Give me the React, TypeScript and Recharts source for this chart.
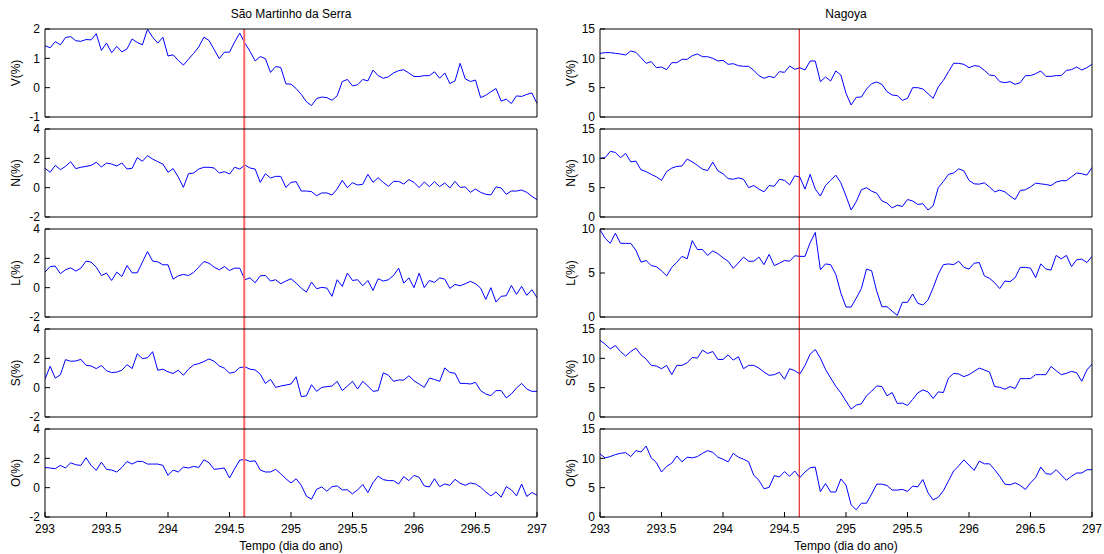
import React from "react";
import { LineChart, Line, XAxis, YAxis, ReferenceLine } from "recharts";

// hourly samples, day 293.0 .. 297.0
const startDay = 293;
const samplesPerDay = 24;
const xTicks = [293, 293.5, 294, 294.5, 295, 295.5, 296, 296.5, 297];
const eventDay = 294.62;

const stations = ["São Martinho da Serra", "Nagoya"];
const channelLabels = ["V(%)", "N(%)", "L(%)", "S(%)", "O(%)"];
const xLabel = "Tempo (dia do ano)";

const smsTicksV = [-1, 0, 1, 2];
const smsTicks = [-2, 0, 2, 4];
const nagTicks = [0, 5, 10, 15];
const nagTicksL = [0, 5, 10];

// São Martinho da Serra
const vSms = [
  1.43, 1.36, 1.57, 1.46, 1.71, 1.74, 1.6, 1.58, 1.64, 1.63,
  1.84, 1.27, 1.52, 1.19, 1.41, 1.22, 1.32, 1.66, 1.54, 1.46,
  1.99, 1.72, 1.52, 1.72, 1.08, 1.12, 0.93, 0.77, 0.97, 1.17,
  1.39, 1.72, 1.61, 1.3, 0.99, 1.21, 1.21, 1.56, 1.86, 1.52,
  1.24, 0.91, 1.06, 0.99, 0.52, 0.72, 0.69, 0.13, 0.12, -0.03,
  -0.23, -0.48, -0.61, -0.37, -0.32, -0.34, -0.43, -0.28, 0.21, 0.28,
  0.06, 0.1, 0.28, 0.23, 0.6, 0.41, 0.32, 0.37, 0.5, 0.58,
  0.61, 0.5, 0.38, 0.38, 0.41, 0.41, 0.54, 0.32, 0.5, 0.14,
  0.23, 0.83, 0.3, 0.21, 0.26, -0.34, -0.26, -0.14, -0.03, -0.46,
  -0.39, -0.54, -0.28, -0.3, -0.23, -0.18, -0.54,
];
const nSms = [
  1.32, 1.05, 1.52, 1.23, 1.45, 1.77, 1.3, 1.39, 1.45, 1.52,
  1.73, 1.41, 1.68, 1.61, 1.48, 1.68, 1.27, 1.32, 2.05, 1.8,
  2.18, 1.95, 1.77, 1.61, 1.05, 1.3, 0.73, 0.02, 0.95, 1.0,
  1.27, 1.39, 1.39, 1.34, 1.0, 1.09, 0.93, 1.39, 1.27, 1.55,
  1.34, 1.27, 0.36, 0.95, 0.66, 0.77, 0.77, 0.02, 0.36, 0.41,
  -0.23, -0.23, -0.27, -0.55, -0.36, -0.36, -0.5, -0.09, 0.5, 0.0,
  0.34, 0.18, 0.23, 0.91, 0.36, 0.68, 0.36, 0.09, 0.43, 0.43,
  0.25, 0.55, 0.36, 0.0, 0.39, 0.07, 0.41, 0.07, 0.32, -0.02,
  0.43, 0.02, 0.05, -0.32, -0.09, -0.32, -0.45, -0.5, 0.05, -0.02,
  -0.45, -0.23, -0.23, -0.16, -0.32, -0.59, -0.82,
];
const lSms = [
  1.06, 1.44, 1.47, 0.95, 1.22, 1.35, 1.13, 1.33, 1.81, 1.74,
  1.4, 0.83, 0.99, 0.49, 1.06, 0.76, 1.51, 1.01, 1.01, 1.74,
  2.46, 1.81, 1.76, 1.56, 1.56, 0.58, 0.81, 0.9, 0.83, 1.04,
  1.4, 1.78, 1.67, 1.4, 1.22, 1.44, 1.17, 1.33, 1.33, 0.54,
  0.67, 0.33, 0.81, 0.83, 0.45, 0.54, 0.27, 0.45, 0.61, 0.31,
  -0.03, -0.3, 0.38, -0.07, 0.02, -0.03, -0.59, 0.54, 0.09, 0.99,
  0.49, 0.54, 0.13, 0.49, -0.19, 0.61, 0.45, 0.54, 0.83, 1.33,
  0.31, 0.67, 0.0, 0.99, 0.0, 0.49, 0.36, 0.67, 0.58, -0.05,
  0.22, 0.13, 0.27, 0.43, 0.27, -0.03, -0.8, 0.0, -0.98, -0.59,
  -0.55, 0.15, -0.46, 0.09, -0.52, -0.14, -0.68,
];
const sSms = [
  0.58, 1.46, 0.65, 0.88, 1.91, 1.8, 1.82, 1.93, 1.53, 1.48,
  1.3, 1.51, 1.15, 1.03, 1.06, 1.19, 1.57, 1.3, 2.31, 1.98,
  2.04, 2.45, 1.19, 1.26, 1.08, 0.97, 1.19, 0.85, 1.26, 1.55,
  1.64, 1.78, 1.96, 1.8, 1.48, 1.33, 0.99, 1.06, 1.37, 1.42,
  1.26, 1.21, 0.92, 0.29, 0.56, 0.02, 0.11, 0.18, 0.25, 0.74,
  -0.61, -0.56, 0.2, -0.25, 0.02, 0.07, 0.11, 0.43, -0.2, 0.11,
  0.43, -0.09, 0.43, 0.11, -0.25, -0.2, 1.01, 0.85, 0.43, 0.52,
  0.52, 0.81, 0.47, 0.25, 0.02, 0.65, 0.56, 0.43, 1.35, 1.03,
  0.99, 0.29, 0.29, 0.25, 0.36, -0.2, -0.43, -0.54, -0.2, -0.2,
  -0.7, -0.43, -0.02, 0.29, -0.09, -0.25, -0.25,
];
const oSms = [
  1.38, 1.34, 1.29, 1.52, 1.34, 1.7, 1.56, 1.52, 2.04, 1.52,
  1.18, 1.74, 1.25, 1.2, 1.07, 1.38, 1.79, 1.61, 1.79, 1.79,
  1.61, 1.61, 1.61, 1.52, 0.84, 1.2, 1.07, 1.4, 1.34, 1.45,
  1.38, 1.9, 1.7, 1.25, 1.29, 1.34, 0.66, 1.29, 1.88, 1.92,
  1.79, 1.83, 1.2, 1.07, 1.07, 1.25, 0.95, 0.61, 0.32, 0.61,
  0.16, -0.58, -0.79, -0.11, 0.05, -0.24, 0.07, 0.12, -0.15, -0.15,
  -0.42, -0.15, 0.21, -0.33, 0.34, 0.79, 0.55, 0.48, 0.48, 0.25,
  0.75, 0.48, 0.84, 0.7, 0.12, 0.05, 0.61, 0.07, 0.25, 0.16,
  0.57, 0.3, 0.16, 0.32, 0.25, 0.03, -0.29, -0.56, -0.29, -0.65,
  0.07, -0.15, -0.56, 0.25, -0.6, -0.33, -0.51,
];

// Nagoya
const vNag = [
  10.85, 10.97, 10.97, 10.85, 10.74, 10.57, 11.25, 11.02, 10.11, 9.15,
  9.43, 8.41, 8.52, 8.07, 9.26, 9.26, 9.83, 9.83, 10.45, 10.74,
  10.28, 10.28, 10.0, 9.55, 9.66, 8.98, 9.09, 8.75, 8.64, 8.64,
  7.95, 7.05, 6.59, 6.93, 6.7, 7.73, 7.61, 8.69, 8.13, 8.41,
  8.01, 9.55, 9.55, 6.02, 6.82, 6.14, 7.84, 7.16, 4.03, 2.05,
  3.35, 3.41, 4.77, 5.68, 5.97, 5.57, 4.32, 3.75, 3.64, 2.84,
  3.18, 5.0, 5.0, 4.77, 3.98, 3.18, 5.11, 6.25, 7.73, 9.15,
  9.15, 8.98, 8.41, 8.75, 8.64, 7.95, 7.16, 7.05, 6.02, 5.85,
  6.02, 5.57, 5.85, 7.05, 7.05, 7.39, 7.84, 6.93, 6.93, 7.05,
  7.05, 7.95, 8.07, 8.52, 8.01, 8.41, 8.98,
];
const nNag = [
  10.0, 10.12, 11.19, 11.01, 10.12, 10.83, 9.4, 9.52, 8.04, 7.74,
  7.26, 6.85, 6.25, 7.74, 8.33, 8.63, 8.69, 9.88, 9.4, 8.81,
  8.15, 7.92, 9.35, 7.86, 7.38, 6.55, 6.43, 6.67, 6.43, 5.0,
  5.36, 4.76, 4.29, 5.36, 5.24, 6.43, 6.25, 5.48, 7.02, 6.79,
  4.76, 7.26, 4.76, 3.57, 5.36, 6.25, 7.14, 5.83, 3.57, 1.19,
  2.62, 4.64, 5.0, 4.4, 4.05, 2.74, 2.38, 1.55, 2.02, 1.79,
  2.98, 2.74, 2.14, 2.26, 1.19, 1.9, 5.0, 6.07, 7.26, 7.5,
  8.21, 7.86, 6.25, 5.65, 5.6, 5.83, 5.12, 4.29, 4.58, 4.29,
  3.57, 2.98, 4.52, 4.64, 5.12, 5.77, 5.65, 5.54, 5.36, 5.95,
  6.19, 6.19, 6.85, 7.5, 7.38, 7.14, 8.45,
];
const lNag = [
  9.92, 8.95, 8.37, 9.53, 8.37, 8.37, 8.37, 7.59, 6.23, 6.42,
  5.84, 5.72, 5.25, 4.67, 5.64, 6.23, 6.89, 6.61, 8.68, 7.67,
  7.67, 7.0, 7.51, 7.2, 6.73, 6.34, 5.53, 6.15, 6.81, 6.34,
  6.34, 6.81, 5.95, 7.12, 5.84, 6.11, 6.42, 6.34, 6.96, 6.89,
  6.89, 8.44, 9.61, 5.37, 6.03, 5.95, 4.86, 2.72, 1.13, 1.13,
  2.14, 3.23, 5.45, 5.25, 2.92, 1.17, 1.17, 0.66, 0.19, 1.67,
  1.67, 2.61, 1.56, 1.36, 1.95, 3.31, 4.86, 5.95, 6.03, 5.95,
  6.34, 5.64, 5.45, 6.11, 6.19, 4.67, 4.4, 3.89, 3.23, 4.09,
  4.01, 4.47, 5.64, 5.64, 5.56, 4.47, 6.03, 5.45, 5.33, 7.0,
  6.61, 7.0, 5.72, 6.5, 6.58, 6.19, 6.89,
];
const sNag = [
  13.08, 12.41, 11.62, 12.18, 11.16, 10.38, 11.16, 11.73, 10.6, 9.87,
  8.8, 8.68, 8.23, 8.8, 7.22, 8.8, 8.8, 9.25, 10.15, 10.04,
  11.39, 10.83, 11.16, 9.81, 9.81, 10.6, 9.7, 10.26, 8.23, 8.8,
  8.8, 8.34, 7.67, 7.1, 7.22, 7.61, 6.43, 8.23, 7.89, 7.33,
  8.8, 10.71, 11.5, 10.04, 8.12, 6.65, 5.24, 4.11, 2.7, 1.35,
  2.03, 2.25, 3.61, 4.4, 5.3, 5.19, 3.61, 4.17, 2.31, 2.37,
  1.97, 2.99, 4.11, 4.62, 4.28, 3.16, 4.28, 4.17, 6.65, 7.44,
  7.33, 6.88, 7.22, 7.78, 8.34, 8.01, 7.67, 5.19, 5.07, 4.73,
  5.19, 4.85, 6.54, 6.54, 6.54, 7.22, 7.22, 7.22, 8.63, 7.89,
  7.22, 7.44, 7.78, 7.55, 6.09, 8.01, 9.02,
];
const oNag = [
  10.75, 10.08, 10.3, 10.64, 10.86, 10.97, 10.3, 11.31, 11.08, 12.09,
  10.08, 9.29, 7.67, 8.62, 9.18, 10.41, 9.4, 10.19, 10.08, 10.3,
  10.86, 11.31, 11.03, 10.19, 9.85, 9.4, 10.86, 10.19, 9.85, 9.4,
  7.11, 6.27, 4.82, 5.04, 7.05, 6.83, 7.73, 6.94, 7.84, 6.72,
  7.67, 8.4, 8.51, 4.31, 5.71, 4.26, 4.26, 6.49, 5.43, 2.07,
  1.23, 2.35, 2.35, 3.92, 5.6, 5.6, 5.37, 4.59, 4.59, 4.7,
  4.37, 5.26, 5.15, 6.38, 4.14, 2.91, 3.36, 4.48, 6.16, 7.84,
  8.73, 9.74, 8.84, 7.95, 9.52, 9.07, 9.07, 8.06, 6.94, 5.6,
  5.49, 5.82, 5.37, 4.7, 5.82, 6.72, 8.51, 7.39, 7.28, 8.06,
  7.17, 6.27, 6.94, 7.5, 7.5, 8.06, 8.06,
];

const columns = [
  {
    series: [vSms, nSms, lSms, sSms, oSms],
    ticks: [smsTicksV, smsTicks, smsTicks, smsTicks, smsTicks],
    eventColor: "#ff6464",
    eventWidth: 2,
  },
  {
    series: [vNag, nNag, lNag, sNag, oNag],
    ticks: [nagTicks, nagTicks, nagTicksL, nagTicks, nagTicks],
    eventColor: "#e00000",
    eventWidth: 1,
  },
];

// layout (px)
const FIG_W = 1104;
const FIG_H = 554;
const PLOT_W = 492;
const PLOT_H = 88;
const ROW_STEP = 100;
const FIRST_TOP = 29;
const COL_LEFT = [45, 600];
const YAXIS_W = 45;
const PAD_TOP = 8; // room for the top tick label
const PAD_RIGHT = 14; // room for the last x tick label
const FONT = "'Liberation Sans', Arial, Helvetica, sans-serif";

const Panel = ({ col, row }: { col: number; row: number }) => {
  const cfg = columns[col];
  const values = cfg.series[row];
  const ticks = cfg.ticks[row];
  const domain: [number, number] = [ticks[0], ticks[ticks.length - 1]];
  const last = row === channelLabels.length - 1;
  const plotTop = FIRST_TOP + row * ROW_STEP;
  const bottomH = last ? FIG_H - (plotTop + PLOT_H) : ROW_STEP - PLOT_H;
  const data = values.map((v, i) => ({ day: startDay + i / samplesPerDay, v }));

  // carry the event marker down through the gap to the next panel
  const span = domain[1] - domain[0];
  const markerLow = last ? domain[0] : domain[0] - (span * bottomH) / PLOT_H;
  const label = channelLabels[row];
  const midY = PAD_TOP + 1 + PLOT_H / 2;

  return (
    <div
      style={{
        position: "absolute",
        left: COL_LEFT[col] - YAXIS_W,
        top: plotTop - 1 - PAD_TOP,
      }}
    >
      <LineChart
        width={YAXIS_W + PLOT_W + 1 + PAD_RIGHT}
        height={PAD_TOP + 1 + PLOT_H + bottomH}
        data={data}
        margin={{ top: PAD_TOP, right: PAD_RIGHT, bottom: 0, left: 0 }}
      >
        <XAxis
          xAxisId="b"
          dataKey="day"
          type="number"
          domain={[startDay, 297]}
          ticks={xTicks}
          interval={0}
          allowDataOverflow
          height={bottomH}
          tickSize={-5}
          tickMargin={12}
          axisLine={{ stroke: "#000" }}
          tickLine={{ stroke: "#000" }}
          tick={last ? { fill: "#000", fontSize: 12, fontFamily: FONT } : false}
          label={
            last
              ? {
                  value: xLabel,
                  position: "insideBottom",
                  offset: 4,
                  fill: "#000",
                  fontSize: 12,
                  fontFamily: FONT,
                }
              : undefined
          }
        />
        <XAxis
          xAxisId="t"
          orientation="top"
          dataKey="day"
          type="number"
          domain={[startDay, 297]}
          ticks={xTicks}
          interval={0}
          allowDataOverflow
          height={1}
          tickSize={-5}
          axisLine={{ stroke: "#000" }}
          tickLine={{ stroke: "#000" }}
          tick={false}
        />
        <YAxis
          yAxisId="l"
          type="number"
          domain={domain}
          ticks={ticks}
          interval={0}
          allowDataOverflow
          width={YAXIS_W}
          tickSize={-5}
          tickMargin={10}
          axisLine={{ stroke: "#000" }}
          tickLine={{ stroke: "#000" }}
          tick={{ fill: "#000", fontSize: 12, fontFamily: FONT }}
          label={{
            value: label,
            content: () => (
              <text
                x={20}
                y={midY}
                transform={`rotate(-90 20 ${midY})`}
                textAnchor="middle"
                fontSize={12}
                fontFamily={FONT}
                fill="#000"
              >
                {label}
              </text>
            ),
          }}
        />
        <YAxis
          yAxisId="r"
          orientation="right"
          type="number"
          domain={domain}
          ticks={ticks}
          interval={0}
          allowDataOverflow
          width={1}
          tickSize={-5}
          axisLine={{ stroke: "#000" }}
          tickLine={{ stroke: "#000" }}
          tick={false}
        />
        <Line
          xAxisId="b"
          yAxisId="l"
          type="linear"
          dataKey="v"
          stroke="#0000ff"
          strokeWidth={1}
          dot={false}
          isAnimationActive={false}
        />
        <ReferenceLine
          xAxisId="b"
          yAxisId="l"
          segment={[
            { x: eventDay, y: domain[1] },
            { x: eventDay, y: markerLow },
          ]}
          ifOverflow="visible"
          stroke={cfg.eventColor}
          strokeWidth={cfg.eventWidth}
        />
      </LineChart>
    </div>
  );
};

export default function App() {
  return (
    <div
      style={{
        position: "absolute",
        left: 0,
        top: 0,
        width: FIG_W,
        height: FIG_H,
        background: "#fff",
        fontFamily: FONT,
      }}
    >
      {stations.map((name, col) => (
        <div
          key={name}
          style={{
            position: "absolute",
            left: COL_LEFT[col],
            top: 8,
            width: PLOT_W,
            textAlign: "center",
            fontSize: 12,
            lineHeight: "12px",
            color: "#000",
          }}
        >
          {name}
        </div>
      ))}
      {columns.map((_, col) =>
        channelLabels.map((_, row) => (
          <Panel key={`${col}-${row}`} col={col} row={row} />
        ))
      )}
    </div>
  );
}
